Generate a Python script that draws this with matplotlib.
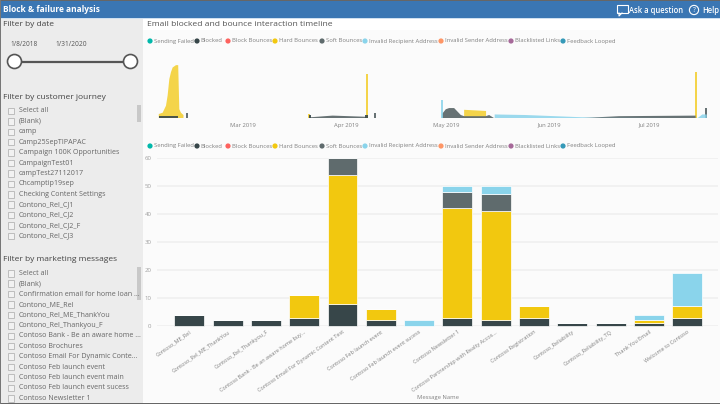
# Block & failure analysis report page
import numpy as np
import pandas as pd
import matplotlib
matplotlib.use("Agg")
import matplotlib.pyplot as plt
import matplotlib.dates as mdates
from matplotlib.patches import Circle, Rectangle

plt.rcParams['font.family'] = ['Open Sans', 'DejaVu Sans']

# bottom chart
messages = ["Contoso_ME_Rel", "Contoso_Rel_ME_ThankYou", "Contoso_Rel_Thankyou_F",
            "Contoso Bank - Be an aware home buy...", "Contoso Email For Dynamic Content Test",
            "Contoso Feb launch event", "Contoso Feb launch event sucess", "Contoso Newsletter 1",
            "Contoso Partnership with Realty Accos...", "Contoso Registration", "Contoso_Reliability",
            "Contoso_Reliability_TQ", "Thank You Email", "Welcome to Contoso"]
blocked = [4, 2, 2, 3, 8, 2, 0, 3, 2, 3, 1, 1, 1, 3]
hard_bounces = [0, 0, 0, 8, 46, 4, 0, 39, 39, 4, 0, 0, 1, 4]
soft_bounces = [0, 0, 0, 0, 6, 0, 0, 6, 6, 0, 0, 0, 0, 0]
invalid_recipient = [0, 0, 0, 0, 0, 0, 2, 2, 3, 0, 0, 0, 2, 12]
y_ticks = [0, 10, 20, 30, 40, 50, 60]

# timeline chart, each nan breaks the area
hard_dates = ["2019-02-03 20:00", "2019-02-04", "2019-02-05", "2019-02-06", "2019-02-06 12:00", "2019-02-07",
              "2019-02-07 12:00", "2019-02-08", "2019-02-09", "2019-02-09 16:00", "2019-02-10", "2019-02-10 12:00",
              "2019-02-11 06:00", "2019-02-11 08:00",
              "2019-03-20 14:00", "2019-03-21 08:00", "2019-03-22",
              "2019-04-06 22:00", "2019-04-07 12:00", "2019-04-08",
              "2019-04-29 18:00", "2019-04-30", "2019-05-01",
              "2019-05-06 12:00", "2019-05-13 02:00", "2019-05-14",
              "2019-07-14 20:00", "2019-07-15 12:00", "2019-07-16"]
hard_vals = [4, 4, 5, 11, 20, 34, 40, 44, 46, 46, 8, 5, 3, np.nan,
             4, 4, np.nan,
             38, 38, np.nan,
             2, 2, np.nan,
             7.5, 6.5, np.nan,
             40, 40, np.nan]
soft_dates = ["2019-02-12", "2019-02-12 14:00", "2019-02-13",
              "2019-03-21", "2019-03-28", "2019-04-07", "2019-04-08",
              "2019-04-09 12:00", "2019-04-10 02:00", "2019-04-11",
              "2019-04-29 20:00", "2019-04-30 04:00", "2019-05-01", "2019-05-02", "2019-05-03 12:00", "2019-05-04 12:00",
              "2019-05-05 12:00", "2019-05-06 12:00", "2019-05-13", "2019-05-14", "2019-05-15 10:00", "2019-05-16",
              "2019-06-10", "2019-06-22", "2019-07-15", "2019-07-16",
              "2019-07-17 16:00", "2019-07-18 08:00"]
soft_vals = [5, 5, np.nan,
             1, 2.5, 1.5, np.nan,
             5, 5, np.nan,
             4, 5, 8, 9, 9, 6, 3, 2, 2, 3, 0.5, np.nan,
             0.3, 2, 2.5, np.nan,
             9, 9]
blocked_dates = ["2019-02-04", "2019-02-09 18:00", "2019-02-10",
                 "2019-03-20 20:00", "2019-03-21 12:00", "2019-03-22",
                 "2019-04-06 20:00", "2019-04-07 12:00", "2019-04-08"]
blocked_vals = [2, 2, np.nan, 3, 3, np.nan, 3, 3, np.nan]
invalid_dates = ["2019-04-29 16:00", "2019-04-30 02:00", "2019-04-30 10:00",
                 "2019-05-15 16:00", "2019-05-25", "2019-06-15", "2019-07-15", "2019-07-15 16:00",
                 "2019-07-17", "2019-07-18 08:00"]
invalid_vals = [16, 16, np.nan, 3.5, 3, 0.6, 0.4, 0.5, 3.5, 3.5]
month_ticks = ["2019-03-01", "2019-04-01", "2019-05-01", "2019-06-01", "2019-07-01"]

# legend and slicers
legend_names = ["Sending Failed", "Blocked", "Block Bounces", "Hard Bounces", "Soft Bounces",
                "Invalid Recipient Address", "Invalid Sender Address", "Blacklisted Links", "Feedback Looped"]
legend_colors = ["#01B8AA", "#374649", "#FD625E", "#F2C80F", "#5F6B6D",
                 "#8AD4EB", "#FE9666", "#A66999", "#3599B8"]
legend_dot_x = [150, 197, 228, 275, 322, 365, 441, 511, 563]
journeys = ["Select all", "(Blank)", "camp", "Camp25SepTIPAPAC", "Campaign 100K Opportunities",
            "CampaignTest01", "campTest27112017", "Chcamptip19sep", "Checking Content Settings",
            "Contono_Rel_CJ1", "Contono_Rel_CJ2", "Contono_Rel_CJ2_F", "Contono_Rel_CJ3"]
marketing = ["Select all", "(Blank)", "Confirmation email for home loan ...", "Contono_ME_Rel",
             "Contono_Rel_ME_ThankYou", "Contono_Rel_Thankyou_F", "Contoso Bank - Be an aware home ...",
             "Contoso Brochures", "Contoso Email For Dynamic Conte...", "Contoso Feb launch event",
             "Contoso Feb launch event main", "Contoso Feb launch event sucess", "Contoso Newsletter 1"]

W, H = 720, 404
fig = plt.figure(figsize=(W / 100, H / 100), dpi=100, facecolor="white")


def px_axes(left, top, right, bottom, zorder=2):
    # axes placed from pixel edges of the page
    ax = fig.add_axes([left / W, 1 - bottom / H, (right - left) / W, (bottom - top) / H], zorder=zorder)
    ax.patch.set_alpha(0)
    for s in ax.spines.values():
        s.set_visible(False)
    return ax


# page furniture in pixel coordinates
page = fig.add_axes([0, 0, 1, 1], zorder=1)
page.set_xlim(0, W)
page.set_ylim(H, 0)
page.axis("off")
page.add_patch(Rectangle((143, 30), 577, 372, color="#FBFBFB", lw=0))
page.add_patch(Rectangle((0, 0), 143, 404, color="#ECECEC", lw=0))
page.add_patch(Rectangle((0, 0), 720, 18, color="#3A76B3", lw=0))
page.add_patch(Rectangle((0, 0), 720, 1, color="#666666", lw=0))
page.add_patch(Rectangle((0, 18), 720, 1, color="#CFE0F0", lw=0))
page.add_patch(Rectangle((0, 402.5), 720, 1.5, color="#666666", lw=0))
page.add_patch(Rectangle((0, 0), 1, 404, color="#777777", lw=0))

page.text(3, 10, "Block & failure analysis", color="white", fontsize=6.05, fontweight="bold", va="center")
page.text(629, 10.5, "Ask a question", color="white", fontsize=5.5, fontweight="semibold", va="center")
page.text(702, 10.5, "Help", color="white", fontsize=5.5, fontweight="semibold", va="center")
page.add_patch(Rectangle((617, 5), 10.5, 8, fill=False, ec="white", lw=0.8))
page.plot([619, 619, 622], [13, 16, 13], color="white", lw=0.8)
page.add_patch(Circle((694, 10), 4.6, fill=False, ec="white", lw=0.8))
page.text(694, 10, "?", color="white", fontsize=4.8, ha="center", va="center")

page.text(3, 25, "Filter by date", color="#444444", fontsize=6.0, va="center")
page.text(24.5, 44, "1/8/2018", color="#555555", fontsize=4.7, ha="center", va="center")
page.text(71.5, 44, "1/31/2020", color="#555555", fontsize=4.8, ha="center", va="center")
page.plot([14, 130], [61.5, 61.5], color="#555555", lw=1.6)
for cx in (14.5, 130.5):
    page.add_patch(Circle((cx, 61.5), 7, fc="white", ec="#555555", lw=1.2, zorder=3))

page.text(3, 97.5, "Filter by customer journey", color="#444444", fontsize=6.0, va="center")
page.text(3, 259.5, "Filter by marketing messages", color="#444444", fontsize=6.0, va="center")
for names, y0 in ((journeys, 111), (marketing, 273.3)):
    for i, name in enumerate(names):
        y = y0 + i * 10.42
        page.add_patch(Rectangle((7.5, y - 3.3), 6.5, 6.5, fc="#F2F2F2", ec="#BDBDBD", lw=0.7))
        page.text(19, y, name, color="#666666", fontsize=5.1, va="center")
page.add_patch(Rectangle((137, 105), 4, 17, color="#C8C8C8", lw=0))
page.add_patch(Rectangle((137, 267), 4, 33, color="#C8C8C8", lw=0))

page.text(147, 25, "Email blocked and bounce interaction timeline", color="#555555", fontsize=6.1, va="center")
for y in (41, 146):
    for name, c, x in zip(legend_names, legend_colors, legend_dot_x):
        page.add_patch(Circle((x, y), 2.6, color=c, lw=0))
        page.text(x + 3.8, y, name, color="#808080", fontsize=4.2, va="center")

# timeline
ax_top = px_axes(146, 48.9, 718, 118.5)
for dates, vals, color, alpha in ((hard_dates, hard_vals, "#F2C80F", 0.75), (soft_dates, soft_vals, "#5F6B6D", 0.95),
                                  (invalid_dates, invalid_vals, "#8AD4EB", 0.85), (blocked_dates, blocked_vals, "#374649", 0.9)):
    ax_top.fill_between(pd.to_datetime(dates, format="ISO8601"), 0, vals, color=color, alpha=alpha, lw=0)
ax_top.set_xlim(pd.Timestamp("2019-01-31 00:00"), pd.Timestamp("2019-07-21 17:00"))
ax_top.set_ylim(0, 60)
ax_top.set_yticks([])
ax_top.set_xticks(pd.to_datetime(month_ticks))
ax_top.xaxis.set_major_formatter(mdates.DateFormatter("%b %Y"))
ax_top.tick_params(axis="x", length=0, pad=3, labelsize=4.2, labelcolor="#808080")

# stacked bars
ax = px_axes(157, 158, 718, 326)
x = np.arange(len(messages))
bottom = np.zeros(len(messages))
for vals, color in ((blocked, "#374649"), (hard_bounces, "#F2C80F"),
                    (soft_bounces, "#5F6B6D"), (invalid_recipient, "#8AD4EB")):
    ax.bar(x, vals, 0.78, bottom=bottom, color=color, edgecolor="#FFFFFF", linewidth=0.5, zorder=3, clip_on=False)
    bottom += np.array(vals)
ax.set_xlim(-0.843, 13.804)
ax.set_ylim(0, 60)
ax.set_yticks(y_ticks)
ax.grid(axis="y", color="#F0F0F0", lw=1.2, zorder=0)
ax.tick_params(axis="y", length=0, pad=4, labelsize=4.4, labelcolor="#A0A0A0")
ax.set_xticks(x)
ax.set_xticklabels(messages, rotation=35, ha="right", rotation_mode="anchor")
ax.tick_params(axis="x", length=0, pad=2.5, labelsize=4.0, labelcolor="#808080")
page.text(438, 398, "Message Name", color="#808080", fontsize=4.2, ha="center", va="center")

fig.savefig("out.png", dpi=100)
